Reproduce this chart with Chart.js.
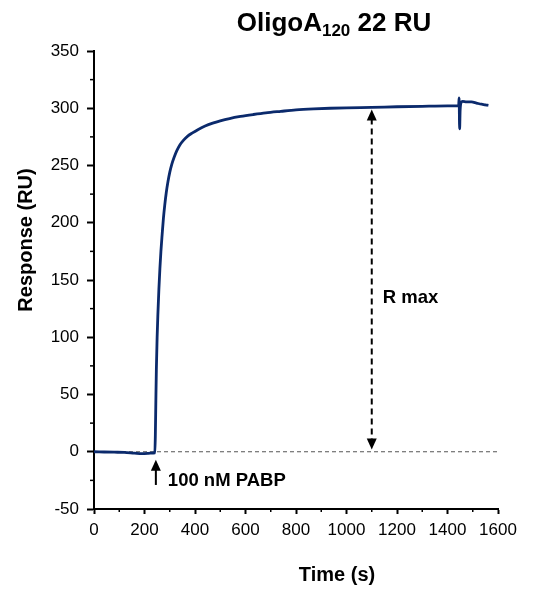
<!DOCTYPE html>
<html lang="en">
<head>
<meta charset="UTF-8">
<title>OligoA120 22 RU</title>
<script src="https://cdn.jsdelivr.net/npm/chart.js@4.4.1/dist/chart.umd.min.js"></script>
<style>
  html, body { margin: 0; padding: 0; background: white; }
  #wrap { width: 537px; height: 593px; }
</style>
</head>
<body>
<div id="wrap"><canvas id="chart" width="537" height="593"></canvas></div>
<script>
// sensorgram
const timeS = [0, 40, 80, 120, 160, 190, 215, 235, 241, 243, 245, 247, 250, 253, 257, 261, 265, 270, 275, 280,
  286, 293, 300, 308, 317, 328, 340, 354, 370, 390, 413, 440, 470, 500, 537, 580, 630, 680, 740, 800, 870, 935,
  1000, 1100, 1200, 1300, 1400, 1444, 1446, 1448, 1450, 1454, 1460, 1475, 1495, 1515, 1535, 1550, 1562];
const responseRU = [0, -0.2, -0.4, -0.6, -1.2, -1.6, -1.4, -1.1, -1, 15, 45, 72, 100, 120, 142, 160, 175, 190, 204, 215,
  226, 236, 244, 251, 257, 263, 268, 272, 275.5, 278.5, 281.5, 284.5, 287, 289, 291, 292.8, 294.5, 296, 297.3, 298.5, 299.4, 300,
  300.4, 300.8, 301.3, 301.7, 302, 302, 309, 282, 298, 305, 306, 305.5, 305.5, 304.5, 303.5, 303, 302.5];

const baselineX = [0, 1600];
const baselineY = [0, 0];

const xTicks = [0, 200, 400, 600, 800, 1000, 1200, 1400, 1600];
const yTicks = [-50, 0, 50, 100, 150, 200, 250, 300, 350];

// annotations
const rmaxTime = 1100, rmaxLow = 2, rmaxHigh = 299;
const injectTime = 245, injectTip = -7, injectTail = -29;

const FONT = "'Liberation Sans', Arial, sans-serif";

const extras = {
  id: 'extras',
  afterDraw(chart) {
    const ctx = chart.ctx;
    const x = chart.scales.x, y = chart.scales.y;
    ctx.save();

    // minor ticks
    ctx.strokeStyle = '#000';
    ctx.lineWidth = 1.5;
    for (let v = -25; v < 350; v += 50) {
      const py = y.getPixelForValue(v);
      ctx.beginPath(); ctx.moveTo(x.left - 4, py); ctx.lineTo(x.left, py); ctx.stroke();
    }
    for (let v = 100; v < 1600; v += 200) {
      const px = x.getPixelForValue(v);
      ctx.beginPath(); ctx.moveTo(px, y.bottom); ctx.lineTo(px, y.bottom + 3); ctx.stroke();
    }

    // R max double arrow
    const ax = x.getPixelForValue(rmaxTime);
    const top = y.getPixelForValue(rmaxHigh), bot = y.getPixelForValue(rmaxLow);
    ctx.lineWidth = 2;
    ctx.setLineDash([6, 4]);
    ctx.beginPath(); ctx.moveTo(ax, top + 9); ctx.lineTo(ax, bot - 9); ctx.stroke();
    ctx.setLineDash([]);
    ctx.fillStyle = '#000';
    ctx.beginPath(); ctx.moveTo(ax, top); ctx.lineTo(ax - 5, top + 11); ctx.lineTo(ax + 5, top + 11); ctx.closePath(); ctx.fill();
    ctx.beginPath(); ctx.moveTo(ax, bot); ctx.lineTo(ax - 5, bot - 11); ctx.lineTo(ax + 5, bot - 11); ctx.closePath(); ctx.fill();

    // injection arrow
    const ix = x.getPixelForValue(injectTime);
    const it = y.getPixelForValue(injectTip), il = y.getPixelForValue(injectTail);
    ctx.beginPath(); ctx.moveTo(ix, it + 8); ctx.lineTo(ix, il); ctx.stroke();
    ctx.beginPath(); ctx.moveTo(ix, it); ctx.lineTo(ix - 5, it + 11); ctx.lineTo(ix + 5, it + 11); ctx.closePath(); ctx.fill();

    // labels
    ctx.fillStyle = '#000';
    ctx.textBaseline = 'middle';
    ctx.textAlign = 'left';
    ctx.font = 'bold 18.5px ' + FONT;
    ctx.fillText('100 nM PABP', ix + 12, il - 4);
    ctx.fillText('R max', ax + 11, y.getPixelForValue(134));

    // axis titles
    ctx.font = 'bold 20px ' + FONT;
    ctx.textAlign = 'center';
    ctx.textBaseline = 'alphabetic';
    ctx.fillText('Time (s)', 337, 581);
    ctx.save();
    ctx.translate(32, 240);
    ctx.rotate(-Math.PI / 2);
    ctx.fillText('Response (RU)', 0, 0);
    ctx.restore();

    // title with subscript
    const parts = [['OligoA', 'bold 26px ', 0], ['120', 'bold 17px ', 5], [' 22 RU', 'bold 26px ', 0]];
    let total = 0;
    parts.forEach(p => { ctx.font = p[1] + FONT; total += ctx.measureText(p[0]).width; });
    let tx = 334 - total / 2;
    ctx.textAlign = 'left';
    parts.forEach(p => {
      ctx.font = p[1] + FONT;
      ctx.fillText(p[0], tx, 31 + p[2]);
      tx += ctx.measureText(p[0]).width;
    });
    ctx.restore();
  }
};

new Chart(document.getElementById('chart'), {
  type: 'scatter',
  data: {
    datasets: [
      {
        data: timeS.map((t, i) => ({ x: t, y: responseRU[i] })),
        showLine: true,
        borderColor: '#0b2a6c',
        borderWidth: 2.8,
        pointRadius: 0,
        cubicInterpolationMode: 'monotone'
      },
      {
        data: baselineX.map((t, i) => ({ x: t, y: baselineY[i] })),
        showLine: true,
        borderColor: '#555',
        borderWidth: 1,
        borderDash: [4, 3],
        pointRadius: 0
      }
    ]
  },
  options: {
    responsive: false,
    animation: false,
    layout: { padding: { top: 51, right: 39, left: 0, bottom: 0 } },
    plugins: { legend: { display: false }, tooltip: { enabled: false } },
    scales: {
      x: {
        type: 'linear', min: 0, max: 1600,
        afterFit(s) { s.height = 84; },
        afterBuildTicks(s) { s.ticks = xTicks.map(v => ({ value: v })); },
        ticks: { color: '#000', font: { family: FONT, size: 17 }, padding: 6, maxRotation: 0, callback: v => String(v) },
        grid: { drawOnChartArea: false, drawTicks: true, tickLength: 5, tickColor: '#000', tickWidth: 2 },
        border: { display: true, color: '#000', width: 2 }
      },
      y: {
        type: 'linear', min: -50, max: 350,
        afterFit(s) { s.width = 94; },
        afterBuildTicks(s) { s.ticks = yTicks.map(v => ({ value: v })); },
        ticks: { color: '#000', font: { family: FONT, size: 17 }, padding: 8, callback: v => String(v) },
        grid: { drawOnChartArea: false, drawTicks: true, tickLength: 7, tickColor: '#000', tickWidth: 2 },
        border: { display: true, color: '#000', width: 2 }
      }
    }
  },
  plugins: [extras]
});
</script>
</body>
</html>
